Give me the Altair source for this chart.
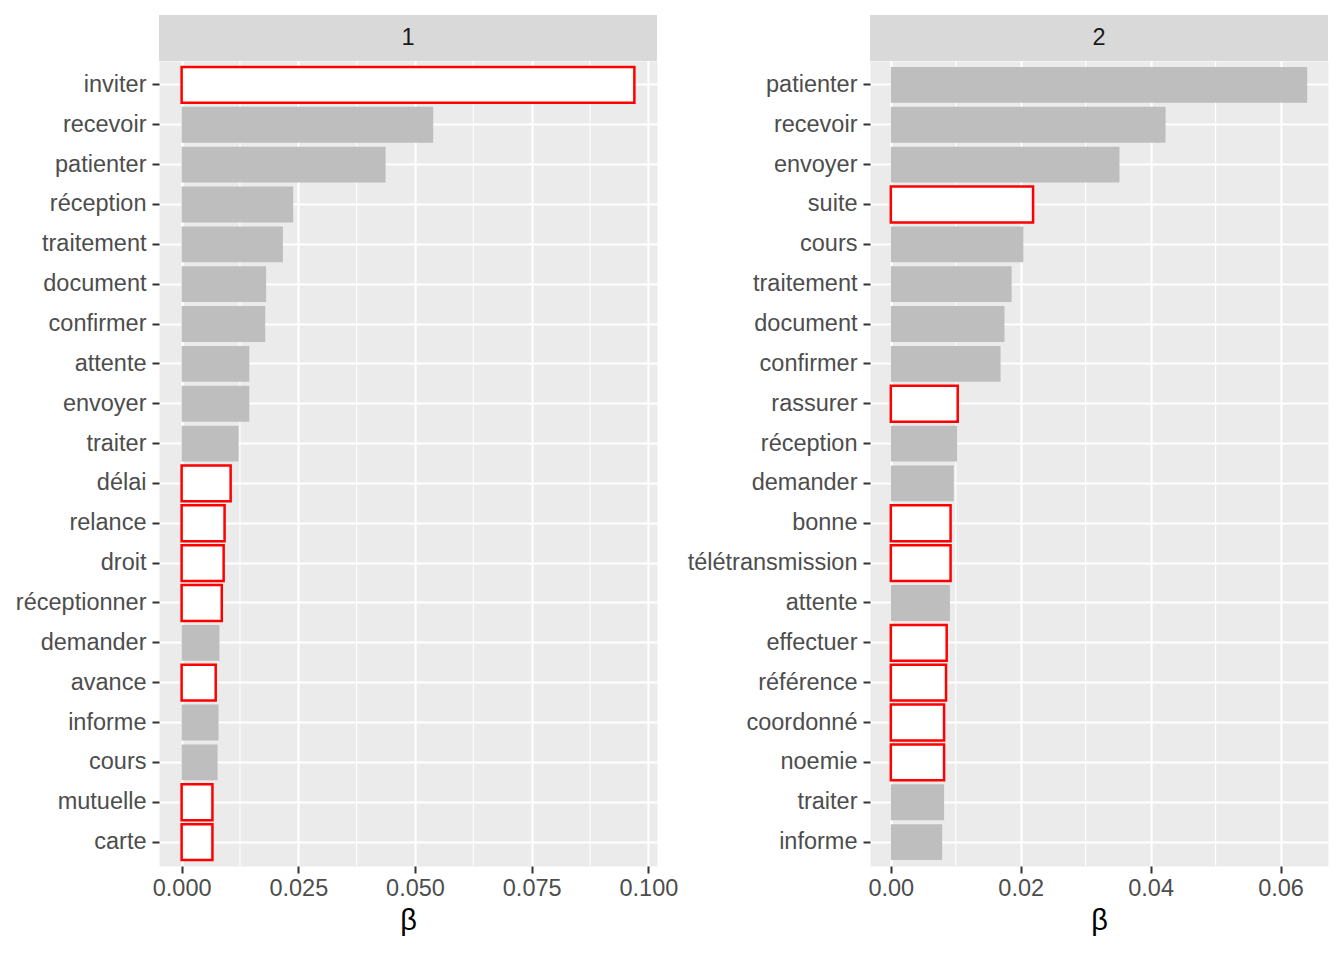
import pandas as pd
import altair as alt

FONT = "Liberation Sans"

# panel 1
terms_1 = ["inviter", "recevoir", "patienter", "réception", "traitement", "document",
           "confirmer", "attente", "envoyer", "traiter", "délai", "relance", "droit",
           "réceptionner", "demander", "avance", "informe", "cours", "mutuelle", "carte"]
beta_1 = [0.0970, 0.0539, 0.0437, 0.0239, 0.0217, 0.0181, 0.0179, 0.0145, 0.0145, 0.0122,
          0.0105, 0.0092, 0.0090, 0.0086, 0.0081, 0.0073, 0.0079, 0.0077, 0.0066, 0.0066]
new_1 = [True, False, False, False, False, False, False, False, False, False,
         True, True, True, True, False, True, False, False, True, True]
ticks_1 = [0.0, 0.025, 0.05, 0.075, 0.1]

# panel 2
terms_2 = ["patienter", "recevoir", "envoyer", "suite", "cours", "traitement", "document",
           "confirmer", "rassurer", "réception", "demander", "bonne", "télétransmission",
           "attente", "effectuer", "référence", "coordonné", "noemie", "traiter", "informe"]
beta_2 = [0.0641, 0.0423, 0.0352, 0.0219, 0.0204, 0.0186, 0.0175, 0.0169, 0.0103, 0.0102,
          0.0097, 0.0092, 0.0092, 0.0091, 0.0086, 0.0085, 0.0082, 0.0082, 0.0082, 0.0079]
new_2 = [False, False, False, True, False, False, False, False, True, False,
         False, True, True, False, True, True, True, True, False, False]
ticks_2 = [0.0, 0.02, 0.04, 0.06]

STRIP_H = 46


def panel(label, terms, beta, new, ticks, fmt, width):
    df = pd.DataFrame({"term": terms, "beta": beta, "new": new})
    pad = 0.05 * max(beta)
    xscale = alt.Scale(domain=[-pad, max(beta) + pad], nice=False, zero=False)
    # minor grid halfway between the major ticks
    minor = pd.DataFrame({"beta": [(a + b) / 2 for a, b in zip(ticks[:-1], ticks[1:])]})

    xaxis = alt.Axis(values=ticks, format=fmt, title="β", grid=True, gridColor="white",
                     gridWidth=2.2, domain=False, tickColor="#333333", tickWidth=2,
                     tickSize=7, labelFont=FONT, labelFontSize=23.5, labelColor="#4D4D4D",
                     labelPadding=3, labelFlush=False, titleFont=FONT, titleFontSize=29,
                     titleFontWeight="normal", titleColor="black", titlePadding=7)
    yaxis = alt.Axis(title=None, grid=True, gridColor="white", gridWidth=2.2, bandPosition=0.5,
                     domain=False, tickColor="#333333", tickWidth=2, tickSize=7,
                     labelFont=FONT, labelFontSize=23.5, labelColor="#4D4D4D", labelPadding=6)
    x_enc = alt.X("beta:Q", scale=xscale, axis=xaxis)

    grid_minor = alt.Chart(minor).mark_rule(color="white", strokeWidth=1.1).encode(x=x_enc)

    bars = alt.Chart(df).mark_bar(strokeWidth=2.5).encode(
        x=x_enc,
        y=alt.Y("term:N", sort=terms, axis=yaxis,
                scale=alt.Scale(paddingInner=0.1, paddingOuter=0.15)),
        fill=alt.when(alt.datum.new).then(alt.value("white")).otherwise(alt.value("#BEBEBE")),
        stroke=alt.when(alt.datum.new).then(alt.value("red")).otherwise(alt.value("transparent")),
    )

    # facet strip above the panel
    strip_df = pd.DataFrame({"panel": [label]})
    strip_bg = alt.Chart(strip_df).mark_rect(color="#D9D9D9").encode(
        x=alt.value(0), x2=alt.value("width"),
        y=alt.value(-STRIP_H), y2=alt.value(0),
    )
    strip_txt = alt.Chart(strip_df).mark_text(
        font=FONT, fontSize=23.5, color="#1A1A1A", baseline="middle", align="center"
    ).encode(
        text="panel:N",
        x=alt.value(width / 2),
        y=alt.value(-STRIP_H / 2),
    )

    return alt.layer(grid_minor, bars, strip_bg, strip_txt).properties(
        width=width, height=805,
        view=alt.ViewBackground(fill="#EBEBEB", stroke="transparent"),
    )


p1 = panel("1", terms_1, beta_1, new_1, ticks_1, ".3f", 498)
p2 = panel("2", terms_2, beta_2, new_2, ticks_2, ".2f", 458)

chart = alt.hconcat(p1, p2, spacing=213, bounds="flush").properties(
    padding={"left": 6, "top": 6, "right": 5, "bottom": 5},
    background="white",
)

chart.save("out.html", embed_options={"renderer": "svg", "actions": False})
